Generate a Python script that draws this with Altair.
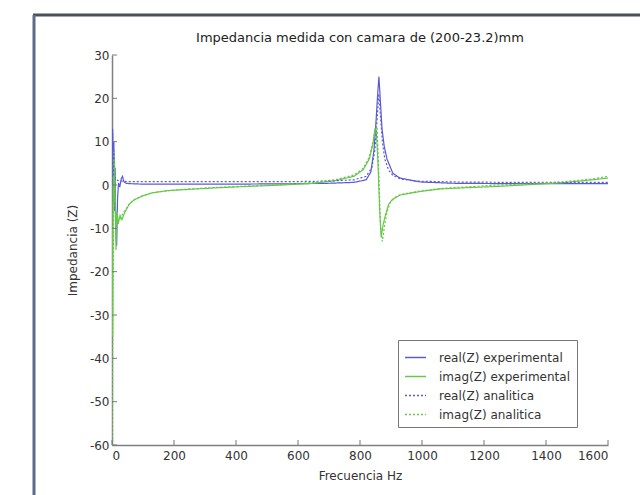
import altair as alt
import pandas as pd

# ---------------- data ----------------
series_names = ["real(Z) experimental", "imag(Z) experimental",
                "real(Z) analitica", "imag(Z) analitica"]

freq_re_exp = [0, 2, 4, 6, 8, 10, 12, 15, 18, 21, 25, 30, 34, 38, 45, 60, 100, 200, 400,
               600, 700, 780, 820, 835, 845, 852, 857, 861, 866, 871, 878, 887, 906, 929,
               994, 1100, 1300, 1500, 1600]
re_exp = [0, 13, -4, 10, -6, 4, -10, -14, -3, 0.5, -0.5, 1.5, 2, 0.8, 0.4, 0.3, 0.2, 0.2, 0.2,
          0.3, 0.4, 0.6, 1.2, 3, 8, 15, 21, 25, 19, 13, 9, 6, 2.7, 1.6,
          0.7, 0.4, 0.3, 0.3, 0.3]

freq_im_exp = [0, 2, 4, 6, 8, 10, 13, 16, 20, 26, 32, 40, 55, 70, 100, 130, 180, 250, 350,
               450, 550, 650, 720, 780, 810, 830, 842, 848, 853, 858, 863, 868, 875, 882,
               892, 905, 930, 994, 1060, 1150, 1250, 1350, 1450, 1550, 1600]
im_exp = [-10, -35, 8, -4, 6, -2, -15, -6, -9, -7, -8, -6.5, -4.5, -3.5, -2.5, -1.8, -1.3, -1, -0.6,
          -0.3, 0, 0.4, 1, 2, 3.5, 6, 9.5, 13, 12, 5, -5, -12, -9, -7,
          -4.5, -3.3, -2.3, -1.5, -0.9, -0.6, -0.3, 0.1, 0.5, 1.2, 1.6]

freq_re_ana = [0, 2, 4, 6, 8, 10, 14, 20, 30, 50, 100, 200, 400, 600, 700, 780, 820, 838,
               848, 855, 861, 866, 872, 880, 892, 906, 930, 980, 1100, 1300, 1500, 1600]
re_ana = [0, 12, 2, 8, 3, 1.5, 1.2, 1, 0.9, 0.8, 0.8, 0.8, 0.8, 0.8, 0.9, 1.2, 2, 4,
          8, 15, 21, 16, 10, 6, 3.5, 2.2, 1.4, 0.9, 0.7, 0.6, 0.6, 0.6]

freq_im_ana = [0, 1, 3, 5, 7, 9, 12, 16, 20, 26, 32, 40, 55, 70, 100, 130, 180, 250, 350,
               450, 550, 650, 720, 780, 810, 830, 842, 850, 855, 860, 866, 872, 880, 888,
               898, 910, 930, 990, 1060, 1150, 1250, 1350, 1450, 1550, 1600]
im_ana = [-60, -60, -25, -10, 6, -3, -8, -7, -7.5, -7.8, -7, -6, -4.5, -3.4, -2.4, -1.8, -1.3, -0.9, -0.5,
          -0.2, 0.1, 0.6, 1.2, 2.3, 3.8, 6.5, 10, 13, 13.5, 4, -9, -13, -9, -6,
          -4, -3, -2.2, -1.4, -0.8, -0.4, 0, 0.3, 0.7, 1.4, 2]

x_ticks = [0, 200, 400, 600, 800, 1000, 1200, 1400, 1600]
y_ticks = [-60, -50, -40, -30, -20, -10, 0, 10, 20, 30]

title_text = "Impedancia medida con camara de (200-23.2)mm"
x_title = "Frecuencia Hz"
y_title = "Impedancia (Z)"

# ---------------- build table ----------------
rows = []
for k, (fs, vs) in enumerate([(freq_re_exp, re_exp), (freq_im_exp, im_exp),
                              (freq_re_ana, re_ana), (freq_im_ana, im_ana)]):
    for f, v in zip(fs, vs):
        rows.append({"freq": f, "value": v, "series": series_names[k], "k": k})
df = pd.DataFrame(rows)

BLUE = "#5a5ad6"
GREEN = "#66c84a"
colors = [BLUE, GREEN, BLUE, GREEN]
dashes = [[1, 0], [1, 0], [2, 2], [2, 2]]

W, H = 496, 390
FONT = "DejaVu Sans"
LABEL_EXPR = "replace(format(datum.value, 'd'), '−', '-')"

xscale = alt.Scale(domain=[0, 1600], nice=False, zero=False)
yscale = alt.Scale(domain=[-60, 30], nice=False, zero=False)
xaxis = alt.Axis(values=x_ticks, title=x_title, labelExpr=LABEL_EXPR,
                 tickSize=0, labelPadding=5, titlePadding=9, grid=False)
yaxis = alt.Axis(values=y_ticks, title=y_title, labelExpr=LABEL_EXPR,
                 tickSize=0, labelPadding=3, titlePadding=10, grid=False)

leg = alt.Legend(title=None, orient="none", legendX=286, legendY=285,
                 strokeColor="#777", fillColor="white", padding=6,
                 symbolType="stroke", symbolSize=440, symbolStrokeWidth=1.5,
                 labelFont=FONT, labelFontSize=12, labelColor="#333",
                 rowPadding=1, labelOffset=12)

lines = alt.Chart(df).mark_line(strokeWidth=1.2, clip=True).encode(
    x=alt.X("freq:Q", scale=xscale, axis=xaxis),
    y=alt.Y("value:Q", scale=yscale, axis=yaxis),
    color=alt.Color("series:N", scale=alt.Scale(domain=series_names, range=colors), legend=leg),
    strokeDash=alt.StrokeDash("series:N", scale=alt.Scale(domain=series_names, range=dashes),
                              legend=leg),
    order=alt.Order("freq:Q"),
)

xt = alt.Chart(pd.DataFrame({"freq": x_ticks})).mark_rule(color="#777", strokeWidth=1).encode(
    x=alt.X("freq:Q", scale=xscale, axis=xaxis),
    y=alt.value(H), y2=alt.value(H - 5),
)
yt = alt.Chart(pd.DataFrame({"value": y_ticks})).mark_rule(color="#777", strokeWidth=1).encode(
    y=alt.Y("value:Q", scale=yscale, axis=yaxis),
    x=alt.value(0), x2=alt.value(5),
)

title_mark = alt.Chart(pd.DataFrame({"label": [title_text]})).mark_text(
    font=FONT, fontSize=13, color="#222", align="center", baseline="middle"
).encode(text="label:N", x=alt.value(W / 2), y=alt.value(-17))

frame_top = alt.Chart(pd.DataFrame({"a": [0]})).mark_rule(color="#4b505c", strokeWidth=3).encode(
    x=alt.value(-79), x2=alt.value(W + 40), y=alt.value(-40)
)
frame_left = alt.Chart(pd.DataFrame({"a": [0]})).mark_rule(color="#5d6a8a", strokeWidth=3).encode(
    x=alt.value(-78), y=alt.value(-40), y2=alt.value(H + 60)
)

chart = alt.layer(lines, xt, yt, title_mark, frame_top, frame_left).properties(
    width=W, height=H,
    padding={"left": 112, "top": 55, "right": 32, "bottom": 50},
    autosize=alt.AutoSizeParams(type="none"),
    background="white",
).configure_view(strokeWidth=0).configure_axis(
    grid=False, domainColor="#808080", domainWidth=1.5,
    labelFont=FONT, labelFontSize=12, labelColor="#333",
    titleFont=FONT, titleFontSize=12, titleFontWeight="normal", titleColor="#333",
)

chart.save("out.html", embed_options={"renderer": "svg", "actions": False})
